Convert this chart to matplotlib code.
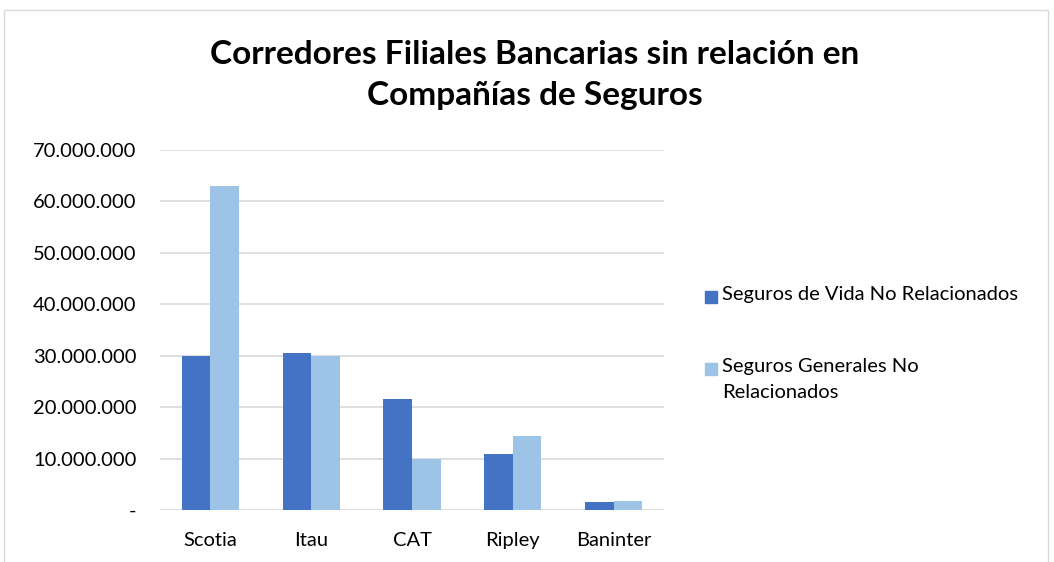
import matplotlib.pyplot as plt
import numpy as np
from matplotlib.patches import Rectangle
from matplotlib.ticker import FuncFormatter

plt.rcParams['font.family'] = ['Lato', 'DejaVu Sans']

categories = ['Scotia', 'Itau', 'CAT', 'Ripley', 'Baninter']
vida = [30.0e6, 30.5e6, 21.6e6, 10.8e6, 1.55e6]
generales = [63.0e6, 29.9e6, 9.9e6, 14.3e6, 1.8e6]
series_names = ['Seguros de Vida No Relacionados', 'Seguros Generales No\nRelacionados']
colors = ['#4472C4', '#9DC3E6']

W, H = 1054, 562
fig = plt.figure(figsize=(W / 100, H / 100), dpi=100)
ax = fig.add_axes([160 / W, 1 - 510 / H, 504 / W, 360 / H])

x = np.arange(len(categories))
w = 0.283
ax.bar(x - w / 2, vida, w, color=colors[0], zorder=3)
ax.bar(x + w / 2, generales, w, color=colors[1], zorder=3)

ax.set_xlim(-0.5, len(categories) - 0.5)
ax.set_ylim(0, 70e6)
ax.set_yticks(np.arange(0, 70e6 + 1, 10e6))


def fmt(v, pos):
    if v == 0:
        return '-'
    return '{:,.0f}'.format(v).replace(',', '.')


ax.yaxis.set_major_formatter(FuncFormatter(fmt))
ax.set_xticks(x)
ax.set_xticklabels(categories)
ax.tick_params(length=0, labelsize=14.5, colors='#000000')
ax.tick_params(axis='y', pad=17)
ax.tick_params(axis='x', pad=16)
ax.grid(axis='y', color='#d9d9d9', lw=1.2, zorder=0)
for s in ax.spines.values():
    s.set_visible(False)

# legend, drawn by hand so the swatch sits on the first text line
leg_y = [297, 369]
for name, c, yy in zip(series_names, colors, leg_y):
    fig.patches.append(Rectangle((705 / W, 1 - (yy + 6) / H), 12 / W, 12 / H,
                                 transform=fig.transFigure, color=c))
    fig.text(722 / W, 1 - (yy - 11) / H, name, ha='left', va='top',
             fontsize=14.5, linespacing=1.65)

fig.text(535 / W, 1 - 75 / H, 'Corredores Filiales Bancarias sin relación en\nCompañías de Seguros',
         ha='center', va='center', fontsize=24, fontweight='bold', linespacing=1.48)

fig.patches.append(Rectangle((4 / W, -0.01), 1044 / W, 1 - 10 / H + 0.01,
                             transform=fig.transFigure, fill=False,
                             edgecolor='#d9d9d9', lw=1))

fig.savefig('out.png', dpi=100)
